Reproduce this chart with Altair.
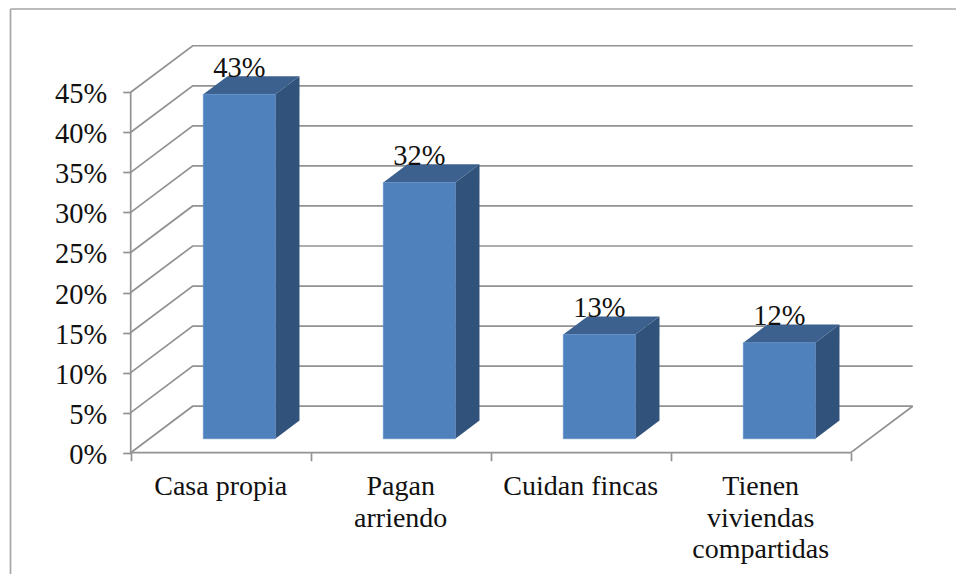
import altair as alt
import pandas as pd

categories = ["Casa propia", "Pagan\narriendo", "Cuidan fincas", "Tienen\nviviendas\ncompartidas"]
values = [43, 32, 13, 12]
y_ticks = [0, 5, 10, 15, 20, 25, 30, 35, 40, 45]
x_ticks = [0, 1, 2, 3, 4]

W, H = 948, 566
AX_X, AX_Y = 122.7, 444.7      # pixel origin of the axes within the canvas
CAT_PX, PCT_PX = 180.0, 8.01   # pixels per category, pixels per percent
DX = 62 / CAT_PX               # depth of the floor, in categories
DP = 46.5 / PCT_PX             # depth of the floor, in percent
BAR_W = 0.4
BAR_SHIFT = 0.3                # bar's position in the depth of the floor
BAR_DEPTH = 0.39

x_scale = alt.Scale(domain=[-AX_X / CAT_PX, (W - AX_X) / CAT_PX], range=[0, W], nice=False, zero=False)
y_scale = alt.Scale(domain=[(AX_Y - H) / PCT_PX, AX_Y / PCT_PX], range=[H, 0], nice=False, zero=False)

FONT = "Liberation Serif"
FS = 28.5
GRID = "#929292"

x_axis = alt.Axis(values=x_ticks, labels=False, title=None, domain=False, grid=False,
                  offset=-(H - AX_Y), tickColor=GRID, tickSize=8, tickWidth=1.7, orient="bottom")
y_axis = alt.Axis(values=y_ticks, title=None, domain=False, grid=False,
                  offset=-AX_X, tickColor=GRID, tickSize=8, tickWidth=1.7, orient="left",
                  labelExpr="datum.value + '%'", labelFont=FONT, labelFontSize=FS,
                  labelColor="#111111", labelPadding=16, labelBaseline="middle", labelOverlap=False,
                  labelFlush=False, labelOffset=1.5)


def X(f="x"):
    return alt.X(f"{f}:Q", scale=x_scale, axis=x_axis)


def Y(f="y"):
    return alt.Y(f"{f}:Q", scale=y_scale, axis=y_axis)


# wall and floor lines
rows = []
for p in y_ticks:
    for i, (x, y) in enumerate([(0, p), (DX, p + DP), (4 + DX, p + DP)]):
        rows.append({"k": f"g{p}", "o": i, "x": x, "y": y})
for i, (x, y) in enumerate([(4 + DX, DP), (4, 0), (0, 0), (0, 45)]):
    rows.append({"k": "floor", "o": i, "x": x, "y": y})
lines = (
    alt.Chart(pd.DataFrame(rows))
    .mark_line(color=GRID, strokeWidth=1.7, interpolate="linear", clip=False)
    .encode(x=X(), y=Y(), detail="k:N", order="o:Q")
)

# bars
front, side, top, labels = [], [], [], []
for i, (c, v) in enumerate(zip(categories, values)):
    xl = i + 0.5 - BAR_W / 2 + BAR_SHIFT * DX
    xr = xl + BAR_W
    base = BAR_SHIFT * DP
    t = v + base
    ddx, ddp = BAR_DEPTH * DX, BAR_DEPTH * DP
    front.append({"x": xl, "x2": xr, "y": base, "y2": t})
    side += [{"k": c, "x": xr, "y": base, "y2": t},
             {"k": c, "x": xr + ddx, "y": base + ddp, "y2": t + ddp}]
    top += [{"k": c, "y": t, "x": xl, "x2": xr},
            {"k": c, "y": t + ddp, "x": xl + ddx, "x2": xr + ddx}]
    labels.append({"x": (xl + xr) / 2, "y": t, "t": f"{v}%"})

front_l = alt.Chart(pd.DataFrame(front)).mark_rect(color="#4f81bd", stroke="#5b8cc6", strokeWidth=0.6).encode(
    x=X(), x2="x2:Q", y=Y(), y2="y2:Q")
side_l = alt.Chart(pd.DataFrame(side)).mark_area(color="#31527b", orient="vertical", interpolate="linear").encode(
    x=X(), y=Y(), y2="y2:Q", detail="k:N")
top_l = alt.Chart(pd.DataFrame(top)).mark_area(color="#3c618f", orient="horizontal", interpolate="linear").encode(
    y=Y(), x=X(), x2="x2:Q", detail="k:N")
val_l = alt.Chart(pd.DataFrame(labels)).mark_text(
    font=FONT, fontSize=FS, color="#111111", baseline="alphabetic", align="center", dy=-17.5
).encode(x=X(), y=Y(), text="t:N")

cat_df = pd.DataFrame({"x": [i + 0.5 for i in range(4)], "t": categories})
cat_l = alt.Chart(cat_df).mark_text(
    font=FONT, fontSize=28, color="#111111", baseline="alphabetic", align="center",
    lineBreak="\n", lineHeight=31.5
).encode(x=X(), y=alt.value(487), text="t:N")

# outer frame
frame_left = alt.Chart(pd.DataFrame({"a": [0]})).mark_rule(color="#a6a6a6", strokeWidth=1.7).encode(
    x=alt.value(2.5), y=alt.value(1), y2=alt.value(H))
frame_top = alt.Chart(pd.DataFrame({"a": [0]})).mark_rule(color="#a6a6a6", strokeWidth=1.7).encode(
    x=alt.value(2.5), x2=alt.value(W), y=alt.value(1))

chart = (
    alt.layer(lines, side_l, top_l, front_l, val_l, cat_l, frame_left, frame_top)
    .properties(width=W, height=H, padding=0, background="white",
                autosize=alt.AutoSizeParams(type="none"))
    .configure_view(stroke=None)
)
chart.save("out.html", embed_options={"renderer": "svg", "actions": False})
